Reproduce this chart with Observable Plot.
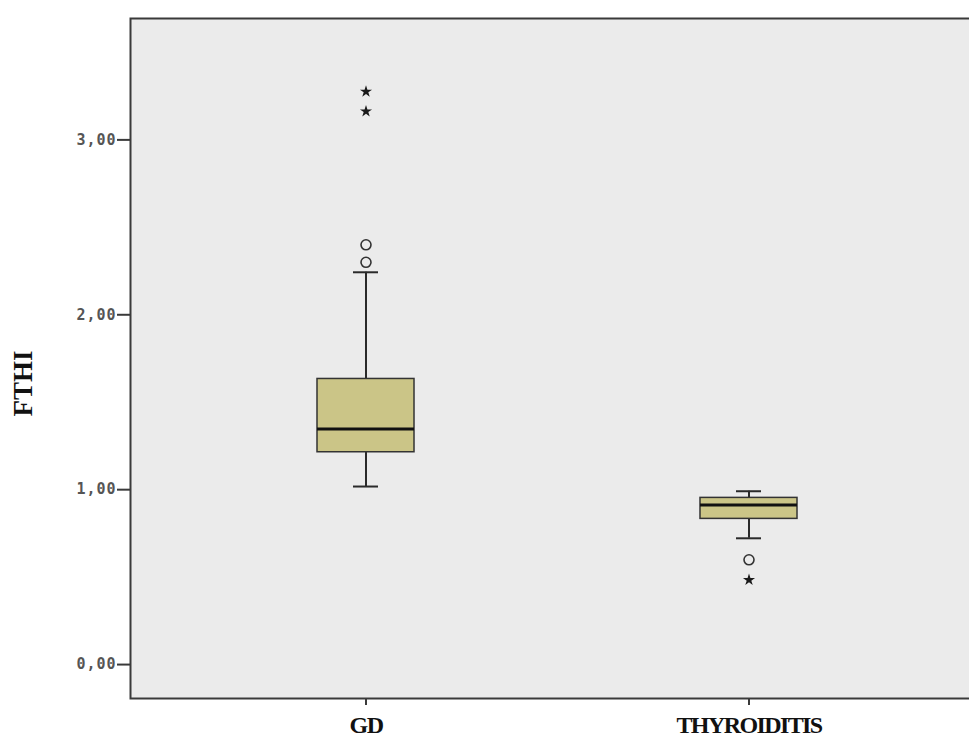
<!DOCTYPE html>
<html>
<head>
<meta charset="utf-8">
<script src="https://cdn.jsdelivr.net/npm/d3@7"></script>
<script src="https://cdn.jsdelivr.net/npm/@observablehq/plot@0.6"></script>
<style>
  html, body { margin: 0; padding: 0; background: #fff; overflow: hidden; }
  #wrap { width: 969px; height: 738px; overflow: hidden; }
  #wrap svg { max-width: none !important; }
</style>
</head>
<body>
<div id="wrap"></div>
<script>
// Categories
const groups = ["GD", "THYROIDITIS"];
// Box statistics per group
const q1 = [1.214, 0.833];
const median = [1.347, 0.913];
const q3 = [1.633, 0.953];
const whiskerLow = [1.018, 0.722];
const whiskerHigh = [2.243, 0.991];
// Outliers (circles)
const outlierGroup = ["GD", "GD", "THYROIDITIS"];
const outlierValue = [2.40, 2.30, 0.599];
// Extreme values (stars)
const extremeGroup = ["GD", "GD", "THYROIDITIS"];
const extremeValue = [3.276, 3.163, 0.484];
// Y ticks
const yTicks = [0, 1, 2, 3];
const yLabel = "FTHI";

const boxes = groups.map((g, i) => ({
  group: g, q1: q1[i], median: median[i], q3: q3[i], lo: whiskerLow[i], hi: whiskerHigh[i]
}));
const outliers = outlierGroup.map((g, i) => ({group: g, value: outlierValue[i]}));
const extremes = extremeGroup.map((g, i) => ({group: g, value: extremeValue[i]}));

const fmt = d => d.toFixed(2).replace(".", ",");

const chart = Plot.plot({
  width: 983,
  height: 738,
  marginLeft: 130,
  marginRight: 0,
  marginTop: 18,
  marginBottom: 40,
  style: {background: "#fff", maxWidth: "none"},
  x: {type: "band", domain: groups, paddingInner: 0.747, paddingOuter: 0.487},
  y: {domain: [-0.194, 3.694]},
  marks: [
    Plot.frame({fill: "#ebebeb"}),
    Plot.ruleX(boxes, {x: "group", y1: "lo", y2: "hi", stroke: "#2a2a2a", strokeWidth: 2}),
    Plot.tickY(boxes, {x: "group", y: "lo", stroke: "#2a2a2a", strokeWidth: 2, insetLeft: 36, insetRight: 36}),
    Plot.tickY(boxes, {x: "group", y: "hi", stroke: "#2a2a2a", strokeWidth: 2, insetLeft: 36, insetRight: 36}),
    Plot.barY(boxes, {x: "group", y1: "q1", y2: "q3", fill: "#cbc587", stroke: "#333", strokeWidth: 1.5}),
    Plot.tickY(boxes, {x: "group", y: "median", stroke: "#111", strokeWidth: 3}),
    Plot.dot(outliers, {x: "group", y: "value", symbol: "circle", r: 5, fill: "none", stroke: "#333", strokeWidth: 1.6}),
    Plot.dot(extremes, {x: "group", y: "value", symbol: "star", r: 3.8, fill: "#1a1a1a", stroke: "none"}),
    Plot.frame({stroke: "#3a3a3a", strokeWidth: 2}),
    Plot.axisY(yTicks, {
      tickFormat: fmt, tickSize: 13, tickPadding: 1, stroke: "#3a3a3a", strokeWidth: 2,
      fontSize: 15, fontFamily: "DejaVu Sans Mono", fontWeight: "bold", fill: "#555",
      label: null
    }),
    Plot.axisX({
      tickSize: 7, tickPadding: 10, stroke: "#3a3a3a", strokeWidth: 2,
      fontSize: 24, fontFamily: "Liberation Serif", fontWeight: "bold", fill: "#111",
      label: null
    }),
    Plot.text([yLabel], {
      frameAnchor: "left", dx: -107.5, dy: 58, rotate: -90,
      fontSize: 27, fontFamily: "Liberation Serif", fontWeight: "bold", fill: "#111"
    })
  ]
});

d3.select(chart).selectAll("[aria-label='y-axis tick label'] text").style("letter-spacing", "1px");
d3.select(chart).selectAll("[aria-label='x-axis tick label'] text").style("letter-spacing", "-1.6px");
document.getElementById("wrap").appendChild(chart);
</script>
</body>
</html>
